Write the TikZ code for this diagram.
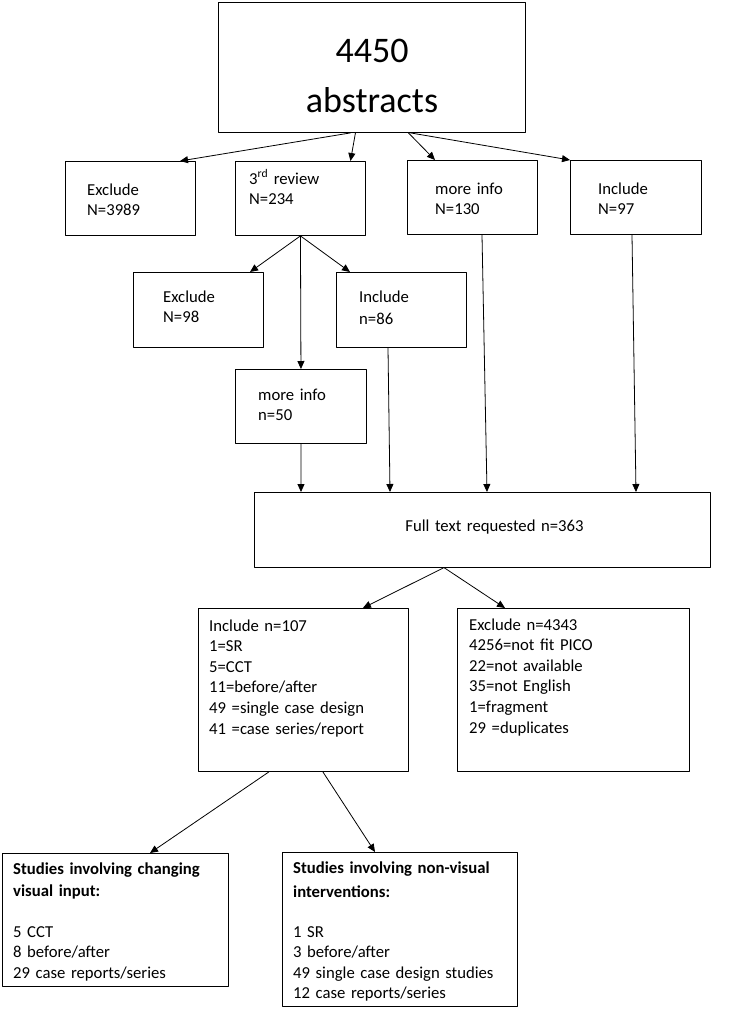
\documentclass[tikz,border=0pt]{standalone}
\usepackage{fontspec}
\setmainfont{Carlito}
\usetikzlibrary{arrows.meta}

\tikzset{
  box/.style={draw, line width=0.9pt, inner sep=0pt, anchor=north west},
  lbl/.style={anchor=base west, inner sep=0pt, align=left, text width=220,
    font=\fontsize{16.7}{20.6}\selectfont},
  arr/.style={line width=0.8pt, -{Triangle[length=8pt,width=7pt]}},
  ln/.style={line width=0.8pt},
}

\begin{document}
\begin{tikzpicture}[x=1pt, y=-1pt, line cap=round, line join=round]
\useasboundingbox (0,0) rectangle (748,1013);

% boxes
\node[box, minimum width=307, minimum height=130] (abs) at (218,2) {};
\node[box, minimum width=130, minimum height=74] (ex3989) at (65,161) {};
\node[box, minimum width=130, minimum height=74] (rev234) at (235,161) {};
\node[box, minimum width=130, minimum height=74] (mi130) at (407,160) {};
\node[box, minimum width=131, minimum height=74] (in97) at (570,160) {};
\node[box, minimum width=130, minimum height=75] (ex98) at (133,272) {};
\node[box, minimum width=130, minimum height=75] (in86) at (336,272) {};
\node[box, minimum width=131, minimum height=74] (mi50) at (235,369) {};
\node[box, minimum width=456, minimum height=75] (full) at (254,492) {};
\node[box, minimum width=210, minimum height=163] (in107) at (198,608) {};
\node[box, minimum width=232, minimum height=163] (ex4343) at (457,608) {};
\node[box, minimum width=226, minimum height=133] (chg) at (2,853) {};
\node[box, minimum width=235, minimum height=154] (nonvis) at (282,852) {};

% texts
\node[lbl, anchor=base, align=center, text width=300, font=\fontsize{36}{50}\selectfont] (tabs) at (372,62) {4450\\abstracts};
\node[lbl] (tex3989) at (87,195) {Exclude\\N=3989};
\node[lbl] (trev234) at (249,184) {3\textsuperscript{rd} review\\N=234};
\node[lbl] (tmi130) at (435,194) {more info\\N=130};
\node[lbl] (tin97) at (598,194) {Include\\N=97};
\node[lbl] (tex98) at (163,302) {Exclude\\N=98};
\node[lbl] (tin86) at (359,302) {Include\\[1.5pt]n=86};
\node[lbl] (tmi50) at (258,400) {more info\\n=50};
\node[lbl, anchor=base, align=center, text width=300] (tfull) at (494.5,531) {Full text requested n=363};
\node[lbl] (tin107) at (209,631) {Include n=107\\1=SR\\5=CCT\\11=before/after\\49 =single case design\\41 =case series/report};
\node[lbl] (tex4343) at (469,630) {Exclude n=4343\\4256=not fit PICO\\22=not available\\35=not English\\1=fragment\\29 =duplicates};
\node[lbl] (tchg) at (13,874) {\textbf{Studies involving changing}\\[1.4pt]\textbf{visual input:}\\[20.4pt]5 CCT\\8 before/after\\29 case reports/series};
\node[lbl] (tnon) at (293,873) {\textbf{Studies involving non-visual}\\[3.4pt]\textbf{interventions:}\\[19.4pt]1 SR\\3 before/after\\49 single case design studies\\12 case reports/series};

% first screening
\draw[arr] ([xshift=-21.5]abs.south) -- ([xshift=115]ex3989.north west);
\draw[arr] ([xshift=-16.5]abs.south) -- ([xshift=50]rev234.north);
\draw[arr] ([xshift=36.5]abs.south) -- ([xshift=28]mi130.north west);
\draw[arr] ([xshift=38.5]abs.south) -- (in97.north west);

% third review
\draw[arr] (rev234.south) -- ([xshift=117]ex98.north west);
\draw[arr] (rev234.south) -- ([xshift=14]in86.north west);
\draw[arr] (rev234.south) -- (mi50.north);

% to full text
\draw[arr] (mi50.south) -- ([xshift=47]full.north west);
\draw[arr] ([xshift=52]in86.south west) -- ([xshift=136]full.north west);
\draw[arr] ([xshift=75]mi130.south west) -- ([xshift=233]full.north west);
\draw[arr] ([xshift=62]in97.south west) -- ([xshift=382]full.north west);

% full text split
\draw[arr] ([xshift=-39]full.south) -- ([xshift=-46]in107.north east);
\draw[arr] ([xshift=-38]full.south) -- ([xshift=48]ex4343.north west);

% grouping
\draw[arr] ([xshift=-140]in107.south east) -- ([xshift=148]chg.north west);
\draw[arr] ([xshift=-86]in107.south east) -- ([xshift=93]nonvis.north west);

\end{tikzpicture}
\end{document}
